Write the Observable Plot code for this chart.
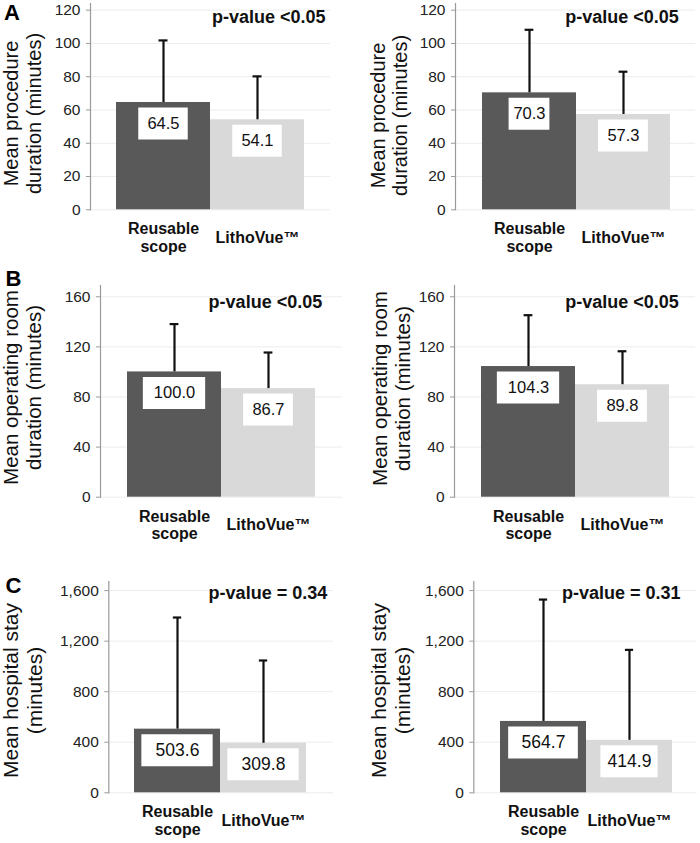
<!DOCTYPE html>
<html>
<head>
<meta charset="utf-8">
<script src="https://cdn.jsdelivr.net/npm/d3@7"></script>
<script src="https://cdn.jsdelivr.net/npm/@observablehq/plot@0.6"></script>
<style>
  body { margin: 0; background: #fff; }
  #chart { position: relative; width: 700px; height: 843px; overflow: hidden; background: #fff; }
  #chart svg { position: absolute; overflow: visible; }
</style>
</head>
<body>
<div id="chart"></div>
<script>
// ---------- DATA ----------
const categories = ["Reusable\nscope", "LithoVue™"];
const panelLetters = ["A", "B", "C"];
const yTitles = [
  "Mean procedure\nduration (minutes)",
  "Mean operating room\nduration (minutes)",
  "Mean hospital stay\n(minutes)"
];
const yTicks = [
  [0, 20, 40, 60, 80, 100, 120],
  [0, 40, 80, 120, 160],
  [0, 400, 800, 1200, 1600]
];
const pValues = ["p-value <0.05", "p-value <0.05", "p-value <0.05", "p-value <0.05", "p-value = 0.34", "p-value = 0.31"];
const meanLabels = [
  ["64.5", "54.1"], ["70.3", "57.3"],
  ["100.0", "86.7"], ["104.3", "89.8"],
  ["503.6", "309.8"], ["564.7", "414.9"]
];
// bar heights as drawn in the figure
const barValues = [
  [64.5, 54.1], [70.3, 57.3],
  [100.0, 86.7], [104.3, 89.8],
  [503.6, 392], [564.7, 414.9]
];
// top of the (upper) standard-deviation whiskers
const errorTops = [
  [101.8, 80.2], [108.2, 83],
  [138.2, 115.5], [145.3, 116.5],
  [1387, 1047], [1529, 1131]
];

// ---------- LAYOUT (page pixels) ----------
const rowsLayout = [
  {top: 0,   h: 265, frameTop: 3,   zeroY: 209.3, ymax: 124,  titleFont: 20,   letterX: 3.5, letterY: 19.5},
  {top: 265, h: 285, frameTop: 285, zeroY: 496.7, ymax: 169,  titleFont: 20.5, letterX: 5,   letterY: 285.5},
  {top: 550, h: 293, frameTop: 581, zeroY: 792.3, ymax: 1672, titleFont: 21,   letterX: 5,   letterY: 592}
];
const panelLayout = [
  {axisX: 90,    barX0: 116,   barW: 94,   gridEnd: 330,   pEnd: 325,   pBase: 22.5,  titleX: 22,    titleY: 113, boxW: [49.5, 49.5], valFont: 16.5},
  {axisX: 455,   barX0: 481.7, barW: 94.2, gridEnd: 695,   pEnd: 678.3, pBase: 22,    titleX: 388.5, titleY: 115, boxW: [41, 50],     valFont: 16.5},
  {axisX: 100,   barX0: 126.7, barW: 94.2, gridEnd: 341.7, pEnd: 321.7, pBase: 307.3, titleX: 21.5,  titleY: 387, boxW: [62.5, 50],   valFont: 16.5},
  {axisX: 454,   barX0: 481,   barW: 94.2, gridEnd: 695,   pEnd: 678.3, pBase: 307.3, titleX: 390.5, titleY: 388, boxW: [62.5, 50],   valFont: 16.5},
  {axisX: 108.3, barX0: 133.3, barW: 86.7, gridEnd: 333,   pEnd: 326.7, pBase: 598.3, titleX: 22,    titleY: 690, boxW: [72, 72],     valFont: 17.5},
  {axisX: 473.3, barX0: 499,   barW: 86.8, gridEnd: 696.7, pEnd: 680,   pBase: 598.3, titleX: 390,   titleY: 690, boxW: [70.5, 58],   valFont: 17.5}
];

const font = "'Liberation Sans', Arial, Helvetica, sans-serif";
const chart = document.getElementById("chart");

for (let i = 0; i < 6; i++) {
  const r = Math.floor(i / 2), c = i % 2;
  const R = rowsLayout[r], P = panelLayout[i];
  const left = c * 350, W = 350;
  const rows = categories.map((cat, j) => ({
    cat, value: barValues[i][j], err: errorTops[i][j], label: meanLabels[i][j], j
  }));
  const frameMid = (R.frameTop + R.zeroY) / 2;

  const marks = [
    Plot.gridY({ticks: yTicks[r], stroke: "#ececec", strokeOpacity: 1}),
    Plot.barY(rows, {x: "cat", y: "value", fill: "cat"}),
    Plot.ruleX(rows, {x: "cat", y1: "value", y2: "err", stroke: "#111", strokeWidth: 2.2}),
    Plot.tickY(rows, {x: "cat", y: "err", stroke: "#111", strokeWidth: 2.2,
      insetLeft: (P.barW - 9) / 2, insetRight: (P.barW - 9) / 2}),
    ...rows.map(d => Plot.tickY([d], {x: "cat", y: "value", stroke: "#fff", strokeWidth: 32, dy: 21,
      insetLeft: (P.barW - P.boxW[d.j]) / 2, insetRight: (P.barW - P.boxW[d.j]) / 2})),
    Plot.text(rows, {x: "cat", y: "value", text: "label", dy: 21, lineAnchor: "middle",
      fontSize: P.valFont, fill: "#111"}),
    Plot.frame({anchor: "left", stroke: "#9a9a9a", strokeWidth: 1.2}),
    Plot.axisY({ticks: yTicks[r], tickSize: 4, tickPadding: 6, stroke: "#9a9a9a", fill: "#222",
      fontSize: 15.5, label: null}),
    Plot.text(categories, {x: d => d, text: d => d, frameAnchor: "bottom", dy: 27.5,
      lineAnchor: "middle", fontWeight: "bold", fontSize: 16, lineHeight: 1.1, fill: "#111"}),
    Plot.text([pValues[i]], {text: d => d, frameAnchor: "top-right", textAnchor: "end",
      lineAnchor: "bottom", dx: P.pEnd - P.gridEnd, dy: P.pBase - R.frameTop,
      fontWeight: "bold", fontSize: 18, fill: "#111"}),
    Plot.text([yTitles[r]], {text: d => d, frameAnchor: "left", rotate: -90,
      textAnchor: "middle", lineAnchor: "middle", lineHeight: 1.12,
      dx: P.titleX - P.axisX, dy: P.titleY - frameMid, fontSize: R.titleFont, fill: "#111"})
  ];
  if (c === 0) {
    marks.push(Plot.text([panelLetters[r]], {text: d => d, frameAnchor: "top-left", textAnchor: "start",
      lineAnchor: "bottom", dx: R.letterX - P.axisX, dy: R.letterY - R.frameTop,
      fontSize: 22, fontWeight: "bold", fill: "#000"}));
  }

  const svg = Plot.plot({
    width: W,
    height: R.h,
    marginLeft: P.axisX - left,
    marginRight: left + W - P.gridEnd,
    marginTop: R.frameTop - R.top,
    marginBottom: R.top + R.h - R.zeroY,
    style: {fontFamily: font, fontSize: "15px", background: "transparent", color: "#222", overflow: "visible"},
    x: {type: "band", domain: categories, range: [P.barX0 - left, P.barX0 - left + 2 * P.barW],
        padding: 0, axis: null},
    y: {domain: [0, R.ymax], axis: null},
    color: {domain: categories, range: ["#595959", "#d9d9d9"]},
    marks
  });
  svg.style.left = left + "px";
  svg.style.top = R.top + "px";
  chart.appendChild(svg);
}
</script>
</body>
</html>
